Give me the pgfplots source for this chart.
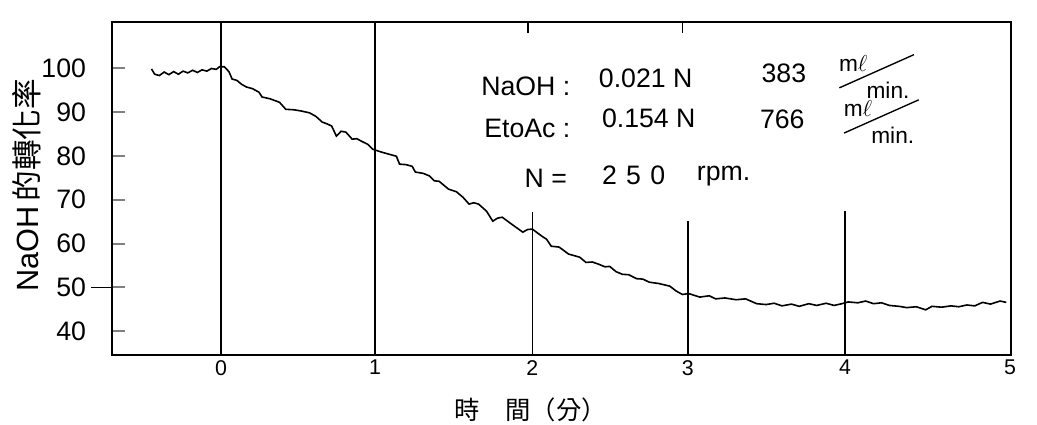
\documentclass[border=0pt]{standalone}
\usepackage{graphicx}
\usepackage{pgfplots}
\pgfplotsset{compat=1.18}
\usepackage{fontspec}
\setmainfont{Liberation Sans}
\newfontfamily\cjk{Noto Sans CJK TC}
\newcommand\mlmin{{\fontsize{17}{17}\selectfont
  \raisebox{0.45em}{m$\ell$}%
  \kern-1.25em\raisebox{-0.3em}{\rotatebox{24}{\rule{3.6em}{0.06em}}}%
  \kern-2.1em\raisebox{-0.75em}{min.}}}
\begin{document}
\begin{tikzpicture}
\begin{axis}[
  scale only axis, width=674pt, height=250pt,
  xmin=-0.69, xmax=5.0, ymin=34.5, ymax=110.5,
  axis line style={line width=1.5pt},
  xtick={0,0.975,1.97,2.955,3.95,4.994},
  xticklabels={0,1,2,3,4,5},
  major x tick style={draw=none},
  ytick={40,50,...,100},
  ytick pos=left, xtick pos=bottom,
  tick align=inside,
  major tick length=10pt,
  major y tick style={line width=1.5pt},
  yticklabel style={font=\fontsize{20}{20}\selectfont, xshift=-16pt},
  xticklabel style={font=\fontsize{16}{16}\selectfont},
  /pgf/number format/assume math mode=true,
  clip=false,
]
% vertical lines
\addplot[line width=1.1pt] coordinates {(0,34.5) (0,110.5)};
\addplot[line width=1.1pt] coordinates {(0.975,34.5) (0.975,110.5)};
\addplot[line width=1.1pt] coordinates {(1.97,34.5) (1.97,67.1)};
\addplot[line width=1.1pt] coordinates {(2.955,34.5) (2.955,65.1)};
\addplot[line width=1.1pt] coordinates {(3.95,34.5) (3.95,67.4)};
\addplot[line width=0.8pt] coordinates {(1.943,110.5) (1.943,108.0)};
\addplot[line width=0.8pt] coordinates {(2.918,110.5) (2.918,108.0)};
\addplot[line width=0.8pt] coordinates {(-0.82,50) (-0.69,50)};
% curve
\addplot[line width=1.2pt] coordinates {
(-0.44,99.8) (-0.42,98.6) (-0.39,98.3) (-0.36,99.1) (-0.33,98.5) (-0.30,99.2) (-0.27,98.6) (-0.24,99.3) (-0.21,98.9) (-0.18,99.5) (-0.15,99.0) (-0.12,99.6) (-0.09,99.3) (-0.06,99.9) (-0.03,99.7) (-0.01,100.3) (0.02,100.3) (0.05,99.2) (0.07,97.5) (0.10,97.2) (0.13,96.3) (0.16,95.7) (0.20,95.3) (0.24,94.5) (0.26,93.4) (0.31,93.0) (0.37,92.2) (0.41,90.6) (0.46,90.5) (0.51,90.2) (0.56,89.8) (0.60,89.0) (0.64,87.7) (0.67,87.3) (0.70,86.8) (0.73,84.5) (0.76,85.6) (0.79,85.4) (0.83,83.8) (0.86,83.9) (0.89,83.3) (0.93,82.6) (0.96,81.5) (1.02,80.8) (1.07,80.3) (1.11,79.9) (1.13,78.1) (1.17,78.0) (1.21,77.6) (1.23,76.3) (1.28,76.0) (1.32,75.4) (1.35,74.3) (1.38,74.2) (1.44,72.4) (1.49,71.8) (1.53,70.6) (1.57,69.0) (1.60,69.3) (1.63,69.0) (1.68,67.4) (1.72,65.1) (1.75,65.8) (1.78,66.0) (1.84,64.4) (1.91,62.6) (1.94,63.2) (1.97,63.3) (2.03,61.7) (2.06,61.0) (2.09,59.4) (2.14,59.2) (2.20,57.6) (2.27,56.9) (2.31,55.7) (2.35,55.8) (2.39,55.3) (2.43,54.7) (2.46,54.8) (2.50,53.6) (2.54,53.0) (2.58,52.9) (2.63,52.0) (2.67,51.9) (2.71,51.2) (2.77,50.9) (2.84,50.3) (2.88,49.2) (2.92,48.4) (2.96,48.6)
(3.03,47.8) (3.09,48.1) (3.13,47.4) (3.19,47.6) (3.26,47.2) (3.32,47.4) (3.39,46.3) (3.45,46.1) (3.50,46.4) (3.55,45.8) (3.61,46.2) (3.66,45.7) (3.72,46.3) (3.77,45.9) (3.83,46.4) (3.88,45.9) (3.93,46.3) (3.97,46.7) (4.03,46.5) (4.08,46.9) (4.13,46.3) (4.18,46.5) (4.23,45.9) (4.29,45.7) (4.34,45.4) (4.40,45.6) (4.46,44.9) (4.50,45.7) (4.56,45.5) (4.62,45.8) (4.67,45.6) (4.72,46.0) (4.77,45.8) (4.82,46.6) (4.87,46.2) (4.93,46.9) (4.97,46.6)
};
% annotations
\tikzset{ann/.style={anchor=base west, inner sep=0pt, font=\fontsize{20}{20}\selectfont}}
\node[ann] at (axis cs:1.646,93.84) {NaOH :};
\node[ann] at (axis cs:2.39,95.67) {0.021 N};
\node[ann] at (axis cs:3.42,96.81) {383};
\node[ann] at (axis cs:3.91,96.9) {\mlmin};
\node[ann] at (axis cs:1.665,84.26) {EtoAc :};
\node[ann] at (axis cs:2.41,86.54) {0.154 N};
\node[ann] at (axis cs:3.41,86.31) {766};
\node[ann] at (axis cs:3.94,86.6) {\mlmin};
\node[ann] at (axis cs:1.92,72.85) {N =};
\node[ann] at (axis cs:2.41,73.53) {2\hspace{0.35em}5\hspace{0.35em}0};
\node[ann] at (axis cs:3.01,74.45) {rpm.};
% axis labels
\node[rotate=90, font=\fontsize{23}{23}\selectfont] at (rel axis cs:-0.0945,0.51) {NaOH\,{\cjk 的轉化率}};
\node[font=\fontsize{19}{19}\selectfont] at (rel axis cs:0.466,-0.163) {\cjk 時\quad 間（分）};
\coordinate (bl) at (rel axis cs:-0.1246,-0.207);
\coordinate (tr) at (rel axis cs:1.0289,1.066);
\end{axis}
\pgfresetboundingbox
\path[use as bounding box] (bl) rectangle (tr);
\end{tikzpicture}
\end{document}
